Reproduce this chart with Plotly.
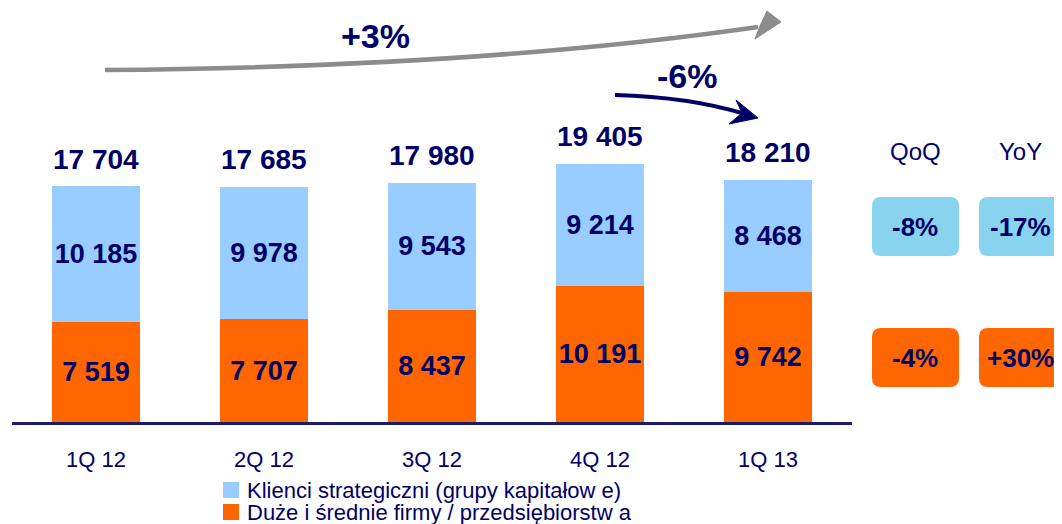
import plotly.graph_objects as go

# ---- data ----
categories = ["1Q 12", "2Q 12", "3Q 12", "4Q 12", "1Q 13"]
strategic = [10185, 9978, 9543, 9214, 8468]          # Klienci strategiczni
corporate = [7519, 7707, 8437, 10191, 9742]          # Duże i średnie firmy
totals = [17704, 17685, 17980, 19405, 18210]
series_names = ["Klienci strategiczni (grupy kapitałow e)",
                "Duże i średnie firmy / przedsiębiorstw a"]
change_headers = ["QoQ", "YoY"]
strategic_changes = ["-8%", "-17%"]
corporate_changes = ["-4%", "+30%"]
trend_labels = ["+3%", "-6%"]

# ---- style ----
NAVY = "#000066"
ORANGE = "#FF6600"
LIGHTBLUE = "#99CCFF"
BOXBLUE = "#88D4EE"
GRAY = "#8C8C8C"
FONT = "Liberation Sans, Arial, sans-serif"

OFF = 8                      # page body margin in the browser
W, H = 1062 - OFF, 524 - OFF
ML, MR, MT, MB = 12 - OFF, 210, 0, 102
PW = W - ML - MR
PH = H - MT - MB


def px(x):          # screen pixel -> paper
    return (x - OFF - ML) / PW


def py(y):
    return (H - MB - (y - OFF)) / PH


def P(x, y):
    return f"{px(x):.5f},{py(y):.5f}"


def fmt(v):
    return f"{v:,}".replace(",", " ")


fig = go.Figure()
for vals, name, col in [(corporate, series_names[1], ORANGE),
                        (strategic, series_names[0], LIGHTBLUE)]:
    fig.add_trace(go.Bar(
        x=categories, y=vals, name=name,
        marker=dict(color=col, line=dict(width=0)),
        text=[fmt(v) for v in vals], textposition="inside",
        insidetextanchor="middle", constraintext="none", textangle=0,
        textfont=dict(family=FONT, size=27, color=NAVY, weight="bold"),
        width=0.52, showlegend=False,
    ))

annotations = []
for c, t in zip(categories, totals):
    annotations.append(dict(
        x=c, y=t, xref="x", yref="y", text=fmt(t), showarrow=False,
        xanchor="center", yanchor="middle", yshift=27,
        font=dict(family=FONT, size=28, color=NAVY, weight="bold"),
    ))

shapes = []

# gray curved arrow (+3%)
shapes.append(dict(
    type="path", xref="paper", yref="paper",
    path=f"M {P(105,70)} Q {P(480,67)} {P(758,27)}",
    line=dict(color=GRAY, width=4.5),
))
shapes.append(dict(
    type="path", xref="paper", yref="paper",
    path=f"M {P(781,22)} L {P(767,11)} L {P(760,26)} L {P(755,39)} Z",
    fillcolor=GRAY, line=dict(color=GRAY, width=1),
))
# navy curved arrow (-6%)
shapes.append(dict(
    type="path", xref="paper", yref="paper",
    path=f"M {P(615,95)} Q {P(690,97)} {P(745,114)}",
    line=dict(color=NAVY, width=4),
))
shapes.append(dict(
    type="path", xref="paper", yref="paper",
    path=f"M {P(758,118)} L {P(736,100)} L {P(742,113)} L {P(729,124)} Z",
    fillcolor=NAVY, line=dict(color=NAVY, width=1),
))


def txt(x, y, text, size, bold=False, xanchor="center"):
    f = dict(family=FONT, size=size, color=NAVY)
    if bold:
        f["weight"] = "bold"
    return dict(x=px(x), y=py(y), xref="paper", yref="paper", text=text,
                showarrow=False, xanchor=xanchor, yanchor="middle", font=f)


annotations.append(txt(375, 36, trend_labels[0], 34, True))
annotations.append(txt(687, 76, trend_labels[1], 34, True))


def rounded_rect(x0, y0, x1, y1, r=9):
    return (f"M {P(x0+r,y0)} L {P(x1-r,y0)} Q {P(x1,y0)} {P(x1,y0+r)} "
            f"L {P(x1,y1-r)} Q {P(x1,y1)} {P(x1-r,y1)} "
            f"L {P(x0+r,y1)} Q {P(x0,y1)} {P(x0,y1-r)} "
            f"L {P(x0,y0+r)} Q {P(x0,y0)} {P(x0+r,y0)} Z")


box_x = [(872, 959), (979, 1066)]
text_cx = [915, 1020]
for i, (x0, x1) in enumerate(box_x):
    tx = text_cx[i]
    annotations.append(txt(tx, 151, change_headers[i], 24))
    shapes.append(dict(type="path", xref="paper", yref="paper",
                       path=rounded_rect(x0, 197, x1, 256),
                       fillcolor=BOXBLUE, line=dict(width=0)))
    shapes.append(dict(type="path", xref="paper", yref="paper",
                       path=rounded_rect(x0, 328, x1, 387),
                       fillcolor=ORANGE, line=dict(width=0)))
    annotations.append(txt(tx, 227, strategic_changes[i], 26, True))
    annotations.append(txt(tx, 358, corporate_changes[i], 26, True))

# manual legend
legend_rows = [(series_names[0], LIGHTBLUE, 490), (series_names[1], ORANGE, 512)]
for name, col, yc in legend_rows:
    shapes.append(dict(type="rect", xref="paper", yref="paper",
                       x0=px(223), x1=px(239), y0=py(yc - 8), y1=py(yc + 8),
                       fillcolor=col, line=dict(width=0)))
    annotations.append(txt(245, yc, name, 22, xanchor="left"))

fig.update_layout(
    width=W, height=H,
    margin=dict(l=ML, r=MR, t=MT, b=MB),
    barmode="stack",
    plot_bgcolor="white", paper_bgcolor="white",
    showlegend=False,
    xaxis=dict(showline=True, linecolor="#1A1A6E", linewidth=3, ticks="",
               tickfont=dict(family=FONT, size=22, color=NAVY),
               ticklabelstandoff=16, showgrid=False, zeroline=False),
    yaxis=dict(visible=False, range=[0, 31100], showgrid=False, zeroline=False),
    annotations=annotations,
    shapes=shapes,
)

fig.write_html("out.html")
